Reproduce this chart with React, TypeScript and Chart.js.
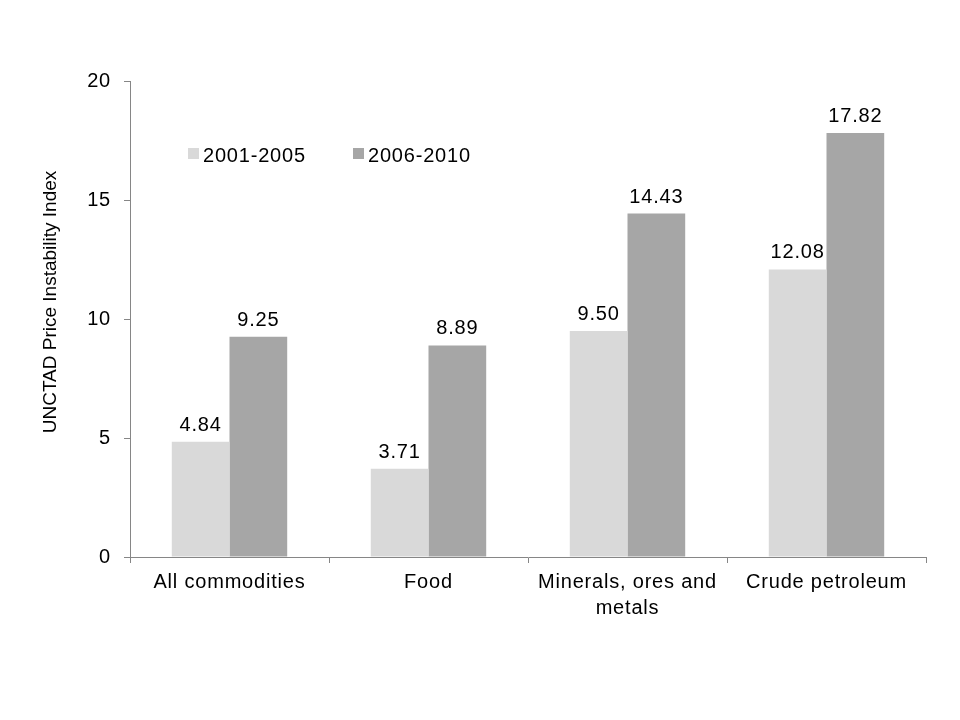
import React, { useEffect, useRef } from "react";
import { Chart, registerables } from "chart.js";

Chart.register(...registerables);

const categories: (string | string[])[] = [
  "All commodities",
  "Food",
  ["Minerals, ores and", "metals"],
  "Crude petroleum",
];
const seriesNames = ["2001-2005", "2006-2010"];
const values2001_2005 = [4.84, 3.71, 9.5, 12.08];
const values2006_2010 = [9.25, 8.89, 14.43, 17.82];
const yTicks = [0, 5, 10, 15, 20];
const yTitle = "UNCTAD Price Instability Index";

const FONT = "'Liberation Sans', Arial, sans-serif";
const AXIS = "#868686";

const spacing = {
  id: "spacing",
  beforeDraw(chart: any) {
    chart.ctx.letterSpacing = "0.8px";
  },
};

const valueLabels = {
  id: "valueLabels",
  afterDatasetsDraw(chart: any) {
    const ctx = chart.ctx;
    ctx.save();
    ctx.letterSpacing = "0.8px";
    ctx.font = `20px ${FONT}`;
    ctx.fillStyle = "#000";
    ctx.textAlign = "center";
    ctx.textBaseline = "alphabetic";
    chart.data.datasets.forEach((ds: any, i: number) => {
      const meta = chart.getDatasetMeta(i);
      meta.data.forEach((bar: any, j: number) => {
        ctx.fillText(Number(ds.data[j]).toFixed(2), bar.x, bar.y - 11);
      });
    });
    ctx.restore();
  },
};

const innerLegend = {
  id: "innerLegend",
  afterDraw(chart: any) {
    const ctx = chart.ctx;
    const area = chart.chartArea;
    ctx.save();
    ctx.letterSpacing = "0.8px";
    ctx.font = `20px ${FONT}`;
    ctx.textBaseline = "alphabetic";
    ctx.textAlign = "left";
    const xs = [area.left + 58, area.left + 223];
    const y = area.top + 67;
    chart.data.datasets.forEach((ds: any, i: number) => {
      ctx.fillStyle = ds.backgroundColor;
      ctx.fillRect(xs[i], y, 11, 11);
      ctx.fillStyle = "#000";
      ctx.fillText(ds.label, xs[i] + 15, y + 14);
    });
    ctx.restore();
  },
};

const yTitlePlugin = {
  id: "yTitlePlugin",
  afterDraw(chart: any) {
    const ctx = chart.ctx;
    const area = chart.chartArea;
    ctx.save();
    ctx.letterSpacing = "0px";
    ctx.font = `19px ${FONT}`;
    ctx.fillStyle = "#000";
    ctx.textAlign = "center";
    ctx.textBaseline = "middle";
    ctx.translate(51, area.top + 221);
    ctx.rotate(-Math.PI / 2);
    ctx.fillText(yTitle, 0, 0);
    ctx.restore();
  },
};

export default function App() {
  const ref = useRef<HTMLCanvasElement | null>(null);
  useEffect(() => {
    document.body.style.margin = "0";
    if (!ref.current) return;
    const chart = new Chart(ref.current, {
      type: "bar",
      data: {
        labels: categories as any,
        datasets: [
          {
            label: seriesNames[0],
            data: values2001_2005,
            backgroundColor: "#d9d9d9",
            categoryPercentage: 0.58,
            barPercentage: 1,
          },
          {
            label: seriesNames[1],
            data: values2006_2010,
            backgroundColor: "#a6a6a6",
            categoryPercentage: 0.58,
            barPercentage: 1,
          },
        ],
      },
      options: {
        animation: false,
        responsive: false,
        maintainAspectRatio: false,
        layout: { padding: { left: 0, top: 81, right: 34, bottom: 0 } },
        plugins: {
          legend: { display: false },
          tooltip: { enabled: false },
        },
        scales: {
          x: {
            grid: {
              offset: true,
              drawOnChartArea: false,
              drawTicks: true,
              tickLength: 6,
              color: AXIS,
            },
            border: { color: AXIS, width: 1 },
            ticks: {
              color: "#000",
              font: { family: FONT, size: 20, lineHeight: 1.3 },
              padding: 6,
              maxRotation: 0,
              autoSkip: false,
            },
            afterFit(scale: any) {
              scale.height = 163;
            },
          },
          y: {
            min: 0,
            max: 20,
            afterBuildTicks(scale: any) {
              scale.ticks = yTicks.map((v) => ({ value: v }));
            },
            grid: {
              drawOnChartArea: false,
              drawTicks: true,
              tickLength: 6,
              color: AXIS,
            },
            border: { color: AXIS, width: 1 },
            ticks: {
              color: "#000",
              font: { family: FONT, size: 20 },
              padding: 13,
            },
            afterFit(scale: any) {
              scale.width = 130;
            },
          },
        },
      },
      plugins: [spacing, valueLabels, innerLegend, yTitlePlugin],
    });
    return () => chart.destroy();
  }, []);
  return (
    <div style={{ width: 960, height: 720 }}>
      <canvas ref={ref} width={960} height={720} style={{ display: "block" }} />
    </div>
  );
}
